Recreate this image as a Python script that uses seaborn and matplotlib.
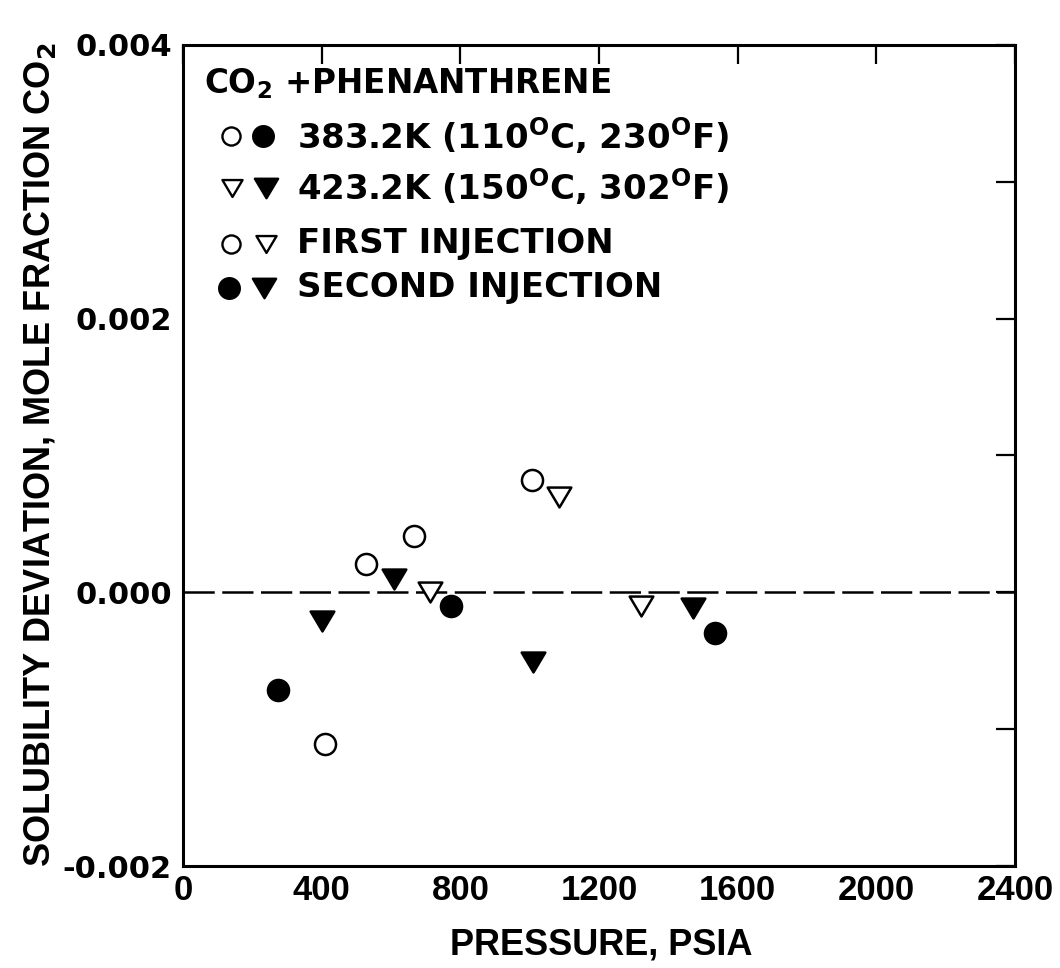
import matplotlib
matplotlib.use("Agg")
import matplotlib.pyplot as plt
from matplotlib.path import Path
from matplotlib.ticker import MultipleLocator, FixedLocator, NullFormatter
import seaborn as sns
import pandas as pd

# ---- data ----
p_383_first = [409, 528, 667, 1006]
d_383_first = [-0.00111, 0.00021, 0.00041, 0.00082]
p_383_second = [275, 773, 1535]
d_383_second = [-0.000715, -0.0001, -0.0003]
p_423_first = [712, 1085, 1321]
d_423_first = [0.0, 0.0007, -0.0001]
p_423_second = [400, 610, 1011, 1470]
d_423_second = [-0.00021, 0.0001, -0.00051, -0.000115]

x_ticks = [0, 400, 800, 1200, 1600, 2000, 2400]
y_ticks = [-0.002, 0.000, 0.002, 0.004]
y_tick_labels = ["-0.002", "0.000", "0.002", "0.004"]

title_text = "CO$_2$ +PHENANTHRENE"
legend_rows = ["383.2K (110$^{\\mathrm{O}}$C, 230$^{\\mathrm{O}}$F)",
               "423.2K (150$^{\\mathrm{O}}$C, 302$^{\\mathrm{O}}$F)",
               "FIRST INJECTION",
               "SECOND INJECTION"]

sns.set_style("white")
plt.rcParams["font.family"] = ["DejaVu Sans"]
plt.rcParams["text.color"] = "black"
plt.rcParams["xtick.color"] = "black"
plt.rcParams["ytick.color"] = "black"
plt.rcParams["axes.labelcolor"] = "black"
plt.rcParams["mathtext.fontset"] = "custom"
plt.rcParams["mathtext.rm"] = "DejaVu Sans:bold"
plt.rcParams["mathtext.bf"] = "DejaVu Sans:bold"

tri = Path([(-1, 0.84), (1, 0.84), (0, -0.84), (-1, 0.84)],
           [Path.MOVETO, Path.LINETO, Path.LINETO, Path.CLOSEPOLY])

fig = plt.figure(figsize=(10.6, 9.68), dpi=100)
ax = fig.add_axes([183 / 1060, 1 - 866 / 968, 832 / 1060, 821 / 968])

df = pd.concat([
    pd.DataFrame({"p": p_383_first, "d": d_383_first, "g": "383 first"}),
    pd.DataFrame({"p": p_383_second, "d": d_383_second, "g": "383 second"}),
    pd.DataFrame({"p": p_423_first, "d": d_423_first, "g": "423 first"}),
    pd.DataFrame({"p": p_423_second, "d": d_423_second, "g": "423 second"}),
])

ax.axhline(0, color="black", lw=1.8, ls=(0, (12.5, 3)), zorder=1)

styles = {
    "383 first": dict(marker="o", s=230, facecolor="white"),
    "383 second": dict(marker="o", s=230, facecolor="black"),
    "423 first": dict(marker=tri, s=290, facecolor="white"),
    "423 second": dict(marker=tri, s=290, facecolor="black"),
}
for g, st in styles.items():
    sub = df[df["g"] == g]
    sns.scatterplot(data=sub, x="p", y="d", ax=ax, marker=st["marker"], s=st["s"],
                    facecolor=st["facecolor"], edgecolor="black", linewidth=1.8,
                    zorder=3, legend=False)

ax.set_xlim(0, 2400)
ax.set_ylim(-0.002, 0.004)
ax.set_xlabel("")
ax.set_ylabel("")

ax.xaxis.set_major_locator(FixedLocator(x_ticks))
ax.set_xticklabels([str(t) for t in x_ticks])
ax.yaxis.set_major_locator(FixedLocator(y_ticks))
ax.set_yticklabels(y_tick_labels)
ax.yaxis.set_minor_locator(MultipleLocator(0.001))
ax.yaxis.set_minor_formatter(NullFormatter())

for s in ax.spines.values():
    s.set_linewidth(2.2)
    s.set_color("black")

ax.tick_params(axis="both", which="both", direction="in", length=14, width=1.6,
               top=True, right=True, color="black", labelcolor="black")
ax.tick_params(axis="y", which="major", labelsize=22, pad=8)
ax.tick_params(axis="x", which="major", labelsize=25, pad=6)
for lab in ax.get_yticklabels():
    lab.set_fontweight("bold")
for lab in ax.get_xticklabels():
    lab.set_fontfamily(["Liberation Sans Narrow", "Liberation Sans", "DejaVu Sans"])
    lab.set_fontweight("bold")

# legend block (axes pixel positions)
def fx(px):
    return (px - 183) / 832
def fy(py):
    return (866 - py) / 821

tx = dict(transform=ax.transAxes, fontweight="bold", va="center",
          ha="left", color="black")
ax.text(fx(204), fy(84), title_text, fontsize=23.5, **tx)
row_y = [136, 187, 244, 288]
for y, t in zip(row_y, legend_rows):
    ax.text(fx(297), fy(y), t, fontsize=24.5, **tx)

mk = dict(transform=ax.transAxes, edgecolor="black", linewidths=1.7, zorder=4, clip_on=False)
ax.scatter([fx(231)], [fy(136)], marker="o", s=170, facecolor="white", **mk)
ax.scatter([fx(263)], [fy(136)], marker="o", s=220, facecolor="black", **mk)
ax.scatter([fx(232)], [fy(188)], marker=tri, s=210, facecolor="white", **mk)
ax.scatter([fx(266)], [fy(188)], marker=tri, s=280, facecolor="black", **mk)
ax.scatter([fx(231)], [fy(244)], marker="o", s=170, facecolor="white", **mk)
ax.scatter([fx(266)], [fy(244)], marker=tri, s=210, facecolor="white", **mk)
ax.scatter([fx(229)], [fy(288)], marker="o", s=220, facecolor="black", **mk)
ax.scatter([fx(264)], [fy(288)], marker=tri, s=280, facecolor="black", **mk)

narrow = ["Liberation Sans Narrow", "Liberation Sans", "DejaVu Sans"]
fig.text(601 / 1060, 1 - 945 / 968, "PRESSURE, PSIA", ha="center", va="center",
         fontsize=26, fontweight="bold", family=narrow, color="black")
fig.text(40 / 1060, 1 - 455 / 968, "SOLUBILITY DEVIATION, MOLE FRACTION CO$_2$",
         ha="center", va="center", rotation=90, fontsize=26, fontweight="bold",
         family=narrow, color="black")

fig.savefig("out.png", dpi=100, facecolor="white")
